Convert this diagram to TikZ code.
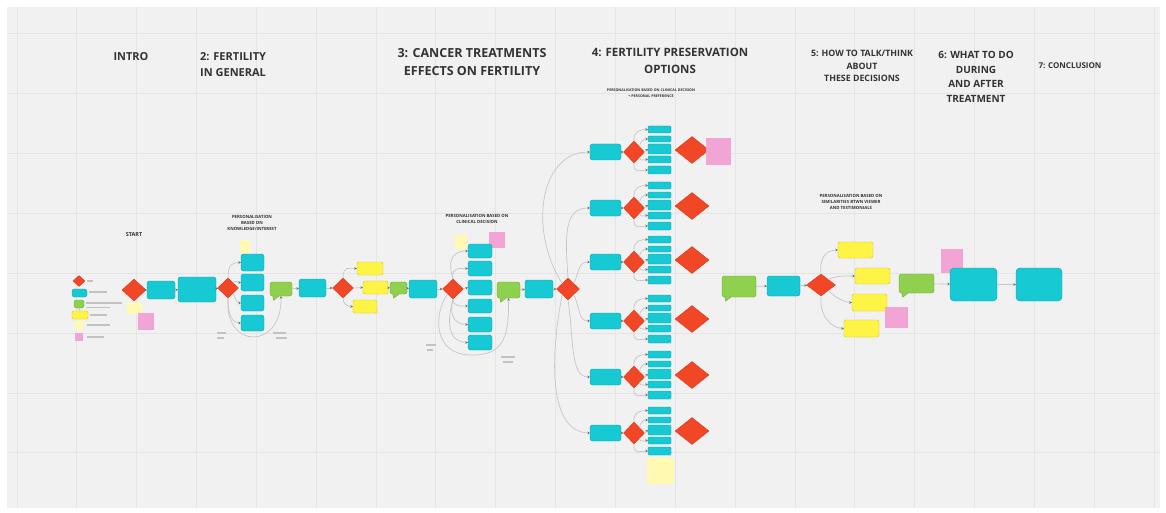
\documentclass[tikz,border=0pt]{standalone}
\usepackage{fontspec}
\setmainfont{Open Sans}
\usetikzlibrary{shapes.geometric,arrows.meta,calc}
\definecolor{bgc}{HTML}{F1F1F1}
\definecolor{gridc}{HTML}{E5E5E5}
\definecolor{cyfill}{HTML}{16C9D2}
\definecolor{cyline}{HTML}{0FA3AA}
\definecolor{rdfill}{HTML}{F24726}
\definecolor{rdline}{HTML}{D63A1C}
\definecolor{grfill}{HTML}{8FD14F}
\definecolor{grline}{HTML}{6AA832}
\definecolor{ylfill}{HTML}{FEF445}
\definecolor{ylline}{HTML}{D9C51C}
\definecolor{palec}{HTML}{FFF9B1}
\definecolor{pinkc}{HTML}{F2A5D4}
\definecolor{edgec}{HTML}{C6C6C6}
\definecolor{tipc}{HTML}{6A6A6A}
\definecolor{txtc}{HTML}{333333}
\definecolor{phc}{HTML}{C2C2C2}
\newcommand\hdrfont[2]{\fontsize{#1}{#2}\selectfont\bfseries}
\newcommand\bubtail[1]{%
  \fill[grfill] ([xshift=3pt,yshift=0.6pt]#1.south west) -- ([xshift=4pt,yshift=-4pt]#1.south west) -- ([xshift=9pt,yshift=0.6pt]#1.south west) -- cycle;
  \draw[grline,line width=0.4pt] ([xshift=3pt]#1.south west) -- ([xshift=4pt,yshift=-4pt]#1.south west) -- ([xshift=9pt]#1.south west);}
\tikzset{
  px/.style n args={4}{at={({(#1+#3)/2},{(#2+#4)/2})}, minimum width={(#3)-(#1)}, minimum height={(#4)-(#2)}},
  cyb/.style={rectangle, rounded corners=2.5pt, fill=cyfill, draw=cyline, line width=0.4pt, inner sep=0pt},
  grb/.style={rectangle, rounded corners=2.5pt, fill=grfill, draw=grline, line width=0.4pt, inner sep=0pt},
  ylb/.style={rectangle, rounded corners=1.5pt, fill=ylfill, draw=ylline, line width=0.4pt, inner sep=0pt},
  pale/.style={rectangle, fill=palec, inner sep=0pt},
  pinkn/.style={rectangle, fill=pinkc, inner sep=0pt},
  dm/.style n args={4}{shape=diamond, at={(#1,#2)}, minimum width={#3}, minimum height={#4}, inner sep=0pt, fill=rdfill, draw=rdline, line width=0.4pt},
  edge/.style={draw=edgec, line width=0.7pt, -{Stealth[length=2.4pt,width=2.6pt,color=tipc]}},
  plain/.style={draw=edgec, line width=0.7pt},
  ph/.style={draw=phc, line width=1.3pt},
  hd/.style={text=txtc, align=center, inner sep=0pt},
  tiny/.style={text=txtc, align=center, inner sep=0pt, font=\hdrfont{4.3}{5.8}},
}
\begin{document}
\begin{tikzpicture}[x=1pt,y=-1pt]
\useasboundingbox (0,0) rectangle (1166,513);
\fill[white] (0,0) rectangle (1166,513);
\fill[bgc] (7,7) rectangle (1160,508);
\begin{scope}
  \clip (7,7) rectangle (1160,508);
  \foreach \i in {0,...,19} \draw[gridc, line width=1pt] ({17+59.85*\i},7) -- ({17+59.85*\i},508);
  \foreach \i in {0,...,7} \draw[gridc, line width=1pt] (7,{34+59.85*\i}) -- (1160,{34+59.85*\i});
\end{scope}

% ---------- headers ----------
\node[hd, font=\hdrfont{11}{16}] (hIntro) at (131,57) {INTRO};
\node[hd, align=left, anchor=west, font=\hdrfont{11}{16}] (h2) at (200,65) {2: FERTILITY\\IN GENERAL};
\node[hd, font=\hdrfont{12.5}{18}] (h3) at (472,62) {3: CANCER TREATMENTS\\EFFECTS ON FERTILITY};
\node[hd, font=\hdrfont{11.5}{17}] (h4) at (670,61) {4: FERTILITY PRESERVATION\\OPTIONS};
\node[hd, font=\hdrfont{8.8}{12.5}] (h5) at (862,66) {5: HOW TO TALK/THINK\\ABOUT\\THESE DECISIONS};
\node[hd, font=\hdrfont{10}{14.7}] (h6) at (976,77) {6: WHAT TO DO\\DURING\\AND AFTER\\TREATMENT};
\node[hd, font=\hdrfont{8}{10}] (h7) at (1070,66) {7: CONCLUSION};

\node[hd, font=\hdrfont{5.5}{7}] (lStart) at (134,235) {START};
\node[tiny] (lP1) at (252,223) {PERSONALISATION\\BASED ON\\KNOWLEDGE/INTEREST};
\node[tiny] (lP2) at (477,219) {PERSONALISATION BASED ON\\CLINICAL DECISION};
\node[tiny, font=\hdrfont{3.6}{5.5}] (lP3) at (651,93) {PERSONALISATION BASED ON CLINICAL DECISION\\+ PERSONAL PREFERENCE};
\node[tiny] (lP4) at (851,202) {PERSONALISATION BASED ON\\SIMILARITIES BTWN VIEWER\\AND TESTIMONIALS};

% ---------- legend ----------
\node[dm={79}{281}{12}{11}] (L1) {};
\node[cyb, px={72}{289}{87}{297}] (L2) {};
\node[grb, px={74}{300}{84}{308}] (L3) {};
\node[ylb, px={72}{311}{88}{319}] (L4) {};
\node[pale, px={75}{321}{83}{330}] (L5) {};
\node[pinkn, px={75}{333}{83}{341}] (L6) {};
\draw[plain] (L3.south) -- (L4.north);
\draw[ph] (87,281) -- (93,281);
\draw[ph] (89,292) -- (107,292);
\draw[ph] (86,303) -- (122,303);
\draw[ph] (86,307.5) -- (110,307.5);
\draw[ph] (90,315) -- (107,315);
\draw[ph] (87,325) -- (110,325);
\draw[ph] (87,337) -- (104,337);

% ---------- intro ----------
\node[dm={134}{290}{24}{22}] (d1) {};
\node[pale, px={127}{303}{142}{314}] (n1) {};
\node[pinkn, px={138}{313}{154}{330}] (n2) {};
\node[cyb, px={147}{281}{175}{299}] (a1) {};
\node[cyb, px={178}{277}{216}{302}] (a2) {};
\node[dm={228}{288}{21}{20}] (d2) {};
\draw[edge] (d1) -- (a1);
\draw[edge] (a1) -- (a2);
\draw[edge] (a2) -- (d2);

% ---------- section 2 ----------
\node[pale, px={240}{240}{250}{253}] (n3) {};
\node[cyb, px={241}{254}{264}{271}] (b1) {};
\node[cyb, px={241}{274}{264}{291}] (b2) {};
\node[cyb, px={241}{295}{264}{311}] (b3) {};
\node[cyb, px={241}{315}{264}{331}] (b4) {};
\draw[edge] (d2.north) .. controls +(0,-14) and +(-8,0) .. (b1.west);
\draw[edge] (d2.north east) .. controls +(1,-3) and +(-3,0) .. (b2.west);
\draw[edge] (d2.south east) .. controls +(1,5) and +(-3,0) .. (b3.west);
\draw[edge] (d2.south) .. controls +(0,18) and +(-8,0) .. (b4.west);
\node[grb, px={270}{282}{292}{296}] (g1) {};
\bubtail{g1}
\draw[edge] (d2.south) .. controls (224,350) and (282,350) .. (g1.south);
\draw[ph] (217,333) -- (226,333);
\draw[ph] (217,338) -- (224,338);
\draw[ph] (273,333) -- (286,333);
\draw[ph] (276,338) -- (287,338);
\node[cyb, px={299}{279}{326}{297}] (a3) {};
\node[dm={343}{288}{21}{20}] (d3) {};
\draw[edge] (g1) -- (a3);
\draw[edge] (a3) -- (d3);
\node[ylb, px={357}{262}{383}{275}] (y1) {};
\node[ylb, px={363}{281}{388}{294}] (y2) {};
\node[ylb, px={353}{300}{377}{313}] (y3) {};
\draw[edge] (d3.north) .. controls +(0,-12) and +(-7,0) .. (y1.west);
\draw[edge] (d3.east) -- (y2.west);
\draw[edge] (d3.south) .. controls +(0,6) and +(-5,0) .. (y3.west);

% ---------- section 3 ----------
\node[grb, px={390}{282}{407}{294}] (g2) {};
\bubtail{g2}
\draw[edge] (y2) -- (g2);
\node[cyb, px={409}{280}{437}{298}] (a4) {};
\node[dm={453}{289}{21}{20}] (d4) {};
\draw[edge] (g2) -- (a4);
\draw[edge] (a4) -- (d4);
\node[pale, px={455}{235}{467}{249}] (n4) {};
\node[pinkn, px={489}{232}{505}{248}] (n5) {};
\node[cyb, px={468}{244}{492}{258}] (e1) {};
\node[cyb, px={468}{261}{492}{276}] (e2) {};
\node[cyb, px={468}{280}{492}{295}] (e3) {};
\node[cyb, px={468}{299}{492}{313}] (e4) {};
\node[cyb, px={468}{317}{492}{332}] (e5) {};
\node[cyb, px={468}{335}{492}{350}] (e6) {};
\draw[edge] (d4.north) .. controls +(-7,-22) and +(-12,0) .. (e1.west);
\draw[edge] (d4.north) .. controls +(-2,-12) and +(-8,0) .. (e2.west);
\draw[edge] (d4.east) -- (e3.west);
\draw[edge] (d4.south) .. controls +(0,8) and +(-6,0) .. (e4.west);
\draw[edge] (d4.south) .. controls +(-5,20) and +(-10,0) .. (e5.west);
\draw[edge] (d4.south) .. controls +(-9,32) and +(-14,0) .. (e6.west);
\node[grb, px={497}{282}{520}{298}] (g3) {};
\bubtail{g3}
\draw[edge] (d4.south west) .. controls (434,312) and (432,354) .. (470,355) .. controls (505,356) and (509,335) .. (g3.south);
\draw[ph] (426,345) -- (436,345);
\draw[ph] (427,350) -- (433,350);
\draw[ph] (501,357) -- (515,357);
\draw[ph] (503,362) -- (513,362);
\node[cyb, px={525}{280}{553}{298}] (a5) {};
\node[dm={568}{289}{23}{22}] (d5) {};
\draw[edge] (g3) -- (a5);
\draw[edge] (a5) -- (d5);

% ---------- section 4 ----------
\foreach \k/\Y in {1/152,2/208,3/262,4/321,5/377,6/433}{
  \node[cyb, px={590}{\Y-8}{621}{\Y+8}] (c\k) {};
  \node[dm={634}{\Y}{21}{22}] (sd\k) {};
  \foreach \j/\a/\b in {1/0/7,2/10/16,3/18/28,4/30/37,5/40/48}
    \node[cyb, rounded corners=1.2pt, px={648}{\Y-26+\a}{671}{\Y-26+\b}] (s\k-\j) {};
  \node[dm={692}{\Y-2}{34}{27}] (bd\k) {};
  \draw[edge] (c\k) -- (sd\k);
  \draw[edge] (sd\k.north) .. controls +(-1,-10) and +(-7,0) .. (s\k-1.west);
  \draw[edge] (sd\k.north east) .. controls +(1,-5) and +(-4,0) .. (s\k-2.west);
  \draw[edge] (sd\k.east) -- (s\k-3.west);
  \draw[edge] (sd\k.south east) .. controls +(1,4) and +(-4,0) .. (s\k-4.west);
  \draw[edge] (sd\k.south) .. controls +(-1,11) and +(-7,0) .. (s\k-5.west);
}
\draw[edge] (d5.north west) .. controls (528,230) and (540,152) .. (c1.west);
\draw[edge] (d5.north) .. controls (565,235) and (564,208) .. (c2.west);
\draw[edge] (d5.north east) .. controls (580,270) and (578,262) .. (c3.west);
\draw[edge] (d5.south east) .. controls (580,308) and (578,321) .. (c4.west);
\draw[edge] (d5.south) .. controls (574,340) and (570,377) .. (c5.west);
\draw[edge] (d5.south west) .. controls (548,370) and (552,432) .. (c6.west);
\node[pinkn, px={706}{138}{731}{165}] (n6) {};
\node[pale, px={647}{458}{674}{484}] (n7) {};

% ---------- section 5 ----------
\node[grb, px={722}{276}{756}{297}] (g5) {};
\bubtail{g5}
\node[cyb, px={767}{276}{800}{296}] (a6) {};
\node[dm={821}{285}{29}{22}] (d6) {};
\draw[edge] (g5) -- (a6);
\draw[edge] (a6) -- (d6);
\node[ylb, px={838}{242}{873}{258}] (yA) {};
\node[ylb, px={855}{268}{890}{284}] (yB) {};
\node[ylb, px={852}{294}{887}{311}] (yC) {};
\node[ylb, px={844}{320}{879}{337}] (yD) {};
\draw[edge] (d6.north) .. controls +(-2,-18) and +(-10,0) .. (yA.west);
\draw[edge] (d6.north east) .. controls +(8,-4) and +(-8,0) .. (yB.west);
\draw[edge] (d6.south east) .. controls +(6,6) and +(-8,0) .. (yC.west);
\draw[edge] (d6.south) .. controls +(-2,22) and +(-10,0) .. (yD.west);
\node[pinkn, px={885}{307}{908}{328}] (n8) {};

% ---------- section 6 / 7 ----------
\node[grb, px={899}{274}{934}{293}] (g6) {};
\bubtail{g6}
\node[pinkn, px={941}{249}{963}{273}] (n9) {};
\node[cyb, rounded corners=4pt, px={950}{268}{997}{301}] (a7) {};
\node[cyb, rounded corners=4pt, px={1016}{268}{1062}{301}] (a8) {};
\draw[edge] (g6) -- (a7);
\draw[edge] (a7) -- (a8);
\end{tikzpicture}
\end{document}
